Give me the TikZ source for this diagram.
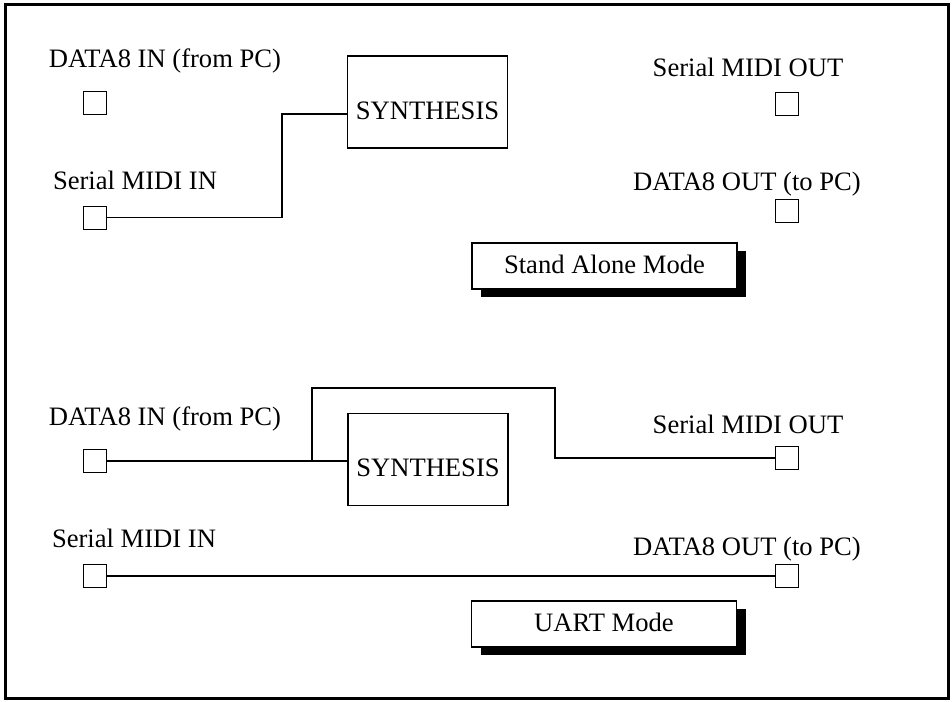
\documentclass[tikz,border=0pt]{standalone}
\usepackage{fontspec}
\setmainfont{Liberation Serif}
\usetikzlibrary{shadows}
\begin{document}
\begin{tikzpicture}[x=1pt,y=-1pt,
  every node/.style={font=\fontsize{26.6}{30}\selectfont},
  port/.style={draw,line width=1pt,rectangle,minimum size=23pt,inner sep=0pt},
  lbl/.style={anchor=base,inner sep=0pt},
  synth/.style={draw,line width=1.1pt,rectangle,inner sep=0pt,
    minimum width=160pt,minimum height=92pt,text height=34pt,text depth=0pt},
  modebox/.style={draw,fill=white,line width=1.5pt,rectangle,inner sep=0pt,
    minimum width=265pt,minimum height=46pt,text height=20pt,text depth=6pt,
    general shadow={fill=black,shadow xshift=9pt,shadow yshift=-8pt}},
  wire/.style={line width=1.8pt},
  frame/.style={line width=2.2pt}]
\useasboundingbox (0,0) rectangle (952,701);
\draw[frame] (5.5,4.5) rectangle (948.5,698.5);

% ---- stand alone mode ----
\node[lbl] (ldi1) at (165,67) {DATA8 IN (from PC)};
\node[port] (di1) at (95,103) {};
\node[lbl] (lmi1) at (135,189) {Serial MIDI IN};
\node[port] (mi1) at (95,217.5) {};
\node[lbl] (lmo1) at (748,77) {Serial MIDI OUT};
\node[port] (mo1) at (786.5,103.5) {};
\node[lbl] (ldo1) at (747,190) {DATA8 OUT (to PC)};
\node[port] (do1) at (786.5,210.5) {};
\node[synth] (syn1) at (427.5,102) {SYNTHESIS};
\node[modebox] (sa) at (604.5,266) {Stand Alone Mode};

\draw[wire] (mi1.east) -- ++(175,0) |- ([yshift=-12pt]syn1.west);

% ---- UART mode ----
\node[lbl] (ldi2) at (165,425) {DATA8 IN (from PC)};
\node[port] (di2) at (95,461) {};
\node[lbl] (lmi2) at (134,547) {Serial MIDI IN};
\node[port] (mi2) at (95,576) {};
\node[lbl] (lmo2) at (748,433) {Serial MIDI OUT};
\node[port] (mo2) at (786.5,458) {};
\node[lbl] (ldo2) at (747,555) {DATA8 OUT (to PC)};
\node[port] (do2) at (786.5,576) {};
\node[synth] (syn2) at (428,459.5) {SYNTHESIS};
\node[modebox] (uart) at (604,624) {UART Mode};

\draw[wire] (di2.east) -- (di2.east -| syn2.west);
\coordinate (br) at (312,461);
\draw[wire] (br) |- (555,388) |- (mo2.west);
\draw[wire] (mi2.east) -- (do2.west);
\end{tikzpicture}
\end{document}
